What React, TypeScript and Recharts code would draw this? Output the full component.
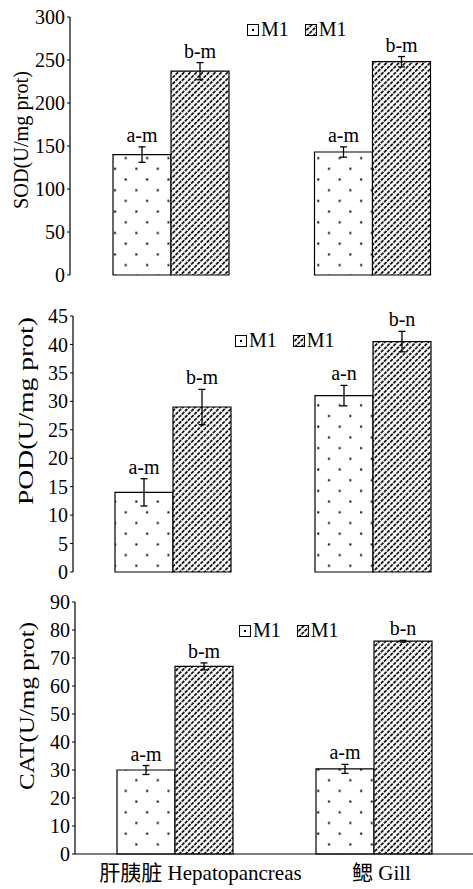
import { Bar, BarChart, ErrorBar, LabelList, Legend, XAxis, YAxis } from "recharts"

const FONT = "'Liberation Serif', 'Noto Sans CJK SC', serif"

const tissues = ["肝胰脏 Hepatopancreas", "鳃 Gill"]
const seriesNames = ["M1", "M1"]

// SOD
const sodM1 = [140, 143]
const sodM1Err = [9, 6]
const sodM2 = [237, 248]
const sodM2Err = [10, 6]
const sodLetters1 = ["a-m", "a-m"]
const sodLetters2 = ["b-m", "b-m"]
const sodTicks = [0, 50, 100, 150, 200, 250, 300]

// POD
const podM1 = [14, 31]
const podM1Err = [2.4, 1.8]
const podM2 = [29, 40.5]
const podM2Err = [3.1, 1.8]
const podLetters1 = ["a-m", "a-n"]
const podLetters2 = ["b-m", "b-n"]
const podTicks = [0, 5, 10, 15, 20, 25, 30, 35, 40, 45]

// CAT
const catM1 = [30, 30.4]
const catM1Err = [1.6, 1.6]
const catM2 = [67, 76]
const catM2Err = [1.25, 0.3]
const catLetters1 = ["a-m", "a-m"]
const catLetters2 = ["b-m", "b-n"]
const catTicks = [0, 10, 20, 30, 40, 50, 60, 70, 80, 90]

// label nudges (the printed x labels are not centred under the bars)
const xLabelShift = [26, 8]

type Row = { tissue: string; m1: number; m1Err: number; m2: number; m2Err: number; l1: string; l2: string }

function buildRows(m1: number[], m1Err: number[], m2: number[], m2Err: number[], l1: string[], l2: string[]): Row[] {
  return tissues.map((tissue, i) => ({
    tissue,
    m1: m1[i],
    m1Err: m1Err[i],
    m2: m2[i],
    m2Err: m2Err[i],
    l1: l1[i],
    l2: l2[i],
  }))
}

const makeLetter = (rows: Row[], valueKey: "m1" | "m2", errKey: "m1Err" | "m2Err") => (props: any) => {
  const x = Number(props.x)
  const y = Number(props.y)
  const width = Number(props.width)
  const height = Number(props.height)
  const row = rows[props.index]
  if (!row) return null
  const px = height / row[valueKey]
  const top = y - row[errKey] * px
  return (
    <text x={x + width / 2} y={top - 5} textAnchor="middle" fontSize={20} fontFamily={FONT} fill="#000">
      {props.value}
    </text>
  )
}

const makeYLabel = (text: string, x: number, shift: number, length: number) => (props: any) => {
  const vb = props.viewBox || { y: 0, height: 0 }
  const cy = vb.y + vb.height / 2 - shift
  return (
    <text
      x={x}
      y={cy}
      transform={`rotate(-90, ${x}, ${cy})`}
      textAnchor="middle"
      fontSize={20}
      fontFamily={FONT}
      fill="#000"
      textLength={length}
      lengthAdjust="spacingAndGlyphs"
    >
      {text}
    </text>
  )
}

const XTick = (props: any) => {
  const { x, y, payload } = props
  const idx = props.index ?? payload.index ?? 0
  return (
    <text x={x + (xLabelShift[idx] || 0)} y={y + 26} textAnchor="middle" fontSize={21} fontFamily={FONT} fill="#000">
      {payload.value}
    </text>
  )
}

function LegendBox({ id, kind }: { id: string; kind: number }) {
  return (
    <svg width={12} height={12} style={{ display: "block" }}>
      <rect x={0.5} y={0.5} width={11} height={11} fill={kind === 0 ? "#fff" : `url(#${id}-hatch)`} stroke="#000" />
      {kind === 0 && <rect x={5} y={5} width={2} height={2} fill="#000" />}
    </svg>
  )
}

type PanelProps = {
  id: string
  rows: Row[]
  ticks: number[]
  yLabel: string
  height: number
  top: number
  bottom: number
  axisWidth: number
  labelX: number
  labelShift: number
  labelLength: number
  legendTop: number
  legendLeft: number
  showX?: boolean
}

function Panel(p: PanelProps) {
  const max = p.ticks[p.ticks.length - 1]
  return (
    <BarChart
      width={473}
      height={p.height}
      data={p.rows}
      margin={{ top: p.top, right: 0, bottom: p.bottom, left: 0 }}
      barGap={0}
      barSize={58}
      style={{ fontFamily: FONT }}
    >
      <defs>
        <pattern id={`${p.id}-dots`} width={21.4} height={21.4} patternUnits="userSpaceOnUse">
          <rect width={21.4} height={21.4} fill="#fff" />
          <rect x={7} y={18} width={2} height={2} fill="#000" />
          <rect x={17.7} y={7.3} width={2} height={2} fill="#000" />
        </pattern>
        <pattern id={`${p.id}-hatch`} width={4.4} height={4.4} patternUnits="userSpaceOnUse" patternTransform="rotate(45)">
          <rect width={4.4} height={4.4} fill="#fff" />
          <line x1={1} y1={0} x2={1} y2={4.4} stroke="#000" strokeWidth={1.7} strokeDasharray="3.4 1" />
        </pattern>
      </defs>
      <XAxis
        dataKey="tissue"
        axisLine={{ stroke: "#000", strokeWidth: 1.2 }}
        tickLine={false}
        tickSize={0}
        tickMargin={0}
        height={p.showX ? 35 : 0}
        tick={p.showX ? <XTick /> : false}
        interval={0}
      />
      <YAxis
        width={p.axisWidth}
        domain={[0, max]}
        ticks={p.ticks}
        interval={0}
        axisLine={{ stroke: "#000", strokeWidth: 1.2 }}
        tickLine={{ stroke: "#000" }}
        tickSize={3}
        tickMargin={2}
        tick={{ fill: "#000", fontSize: 20, fontFamily: FONT }}
        label={makeYLabel(p.yLabel, p.labelX, p.labelShift, p.labelLength)}
      />
      <Legend
        layout="horizontal"
        verticalAlign="middle"
        align="center"
        wrapperStyle={{ top: p.legendTop, left: p.legendLeft, width: "auto" }}
        content={(lp: any) => (
          <div style={{ display: "flex", alignItems: "center", fontFamily: FONT, fontSize: 20, color: "#000" }}>
            {(lp.payload || []).map((entry: any, i: number) => (
              <div key={i} style={{ display: "flex", alignItems: "center", marginLeft: i === 0 ? 0 : 16 }}>
                <LegendBox id={p.id} kind={i} />
                <span style={{ marginLeft: 2 }}>{entry.value}</span>
              </div>
            ))}
          </div>
        )}
      />
      <Bar dataKey="m1" name={seriesNames[0]} fill={`url(#${p.id}-dots)`} stroke="#000" strokeWidth={1.2} isAnimationActive={false}>
        <ErrorBar dataKey="m1Err" width={3.5} stroke="#000" strokeWidth={1.3} />
        <LabelList dataKey="l1" content={makeLetter(p.rows, "m1", "m1Err")} />
      </Bar>
      <Bar dataKey="m2" name={seriesNames[1]} fill={`url(#${p.id}-hatch)`} stroke="#000" strokeWidth={1.2} isAnimationActive={false}>
        <ErrorBar dataKey="m2Err" width={3.5} stroke="#000" strokeWidth={1.3} />
        <LabelList dataKey="l2" content={makeLetter(p.rows, "m2", "m2Err")} />
      </Bar>
    </BarChart>
  )
}

export default function App() {
  const sodRows = buildRows(sodM1, sodM1Err, sodM2, sodM2Err, sodLetters1, sodLetters2)
  const podRows = buildRows(podM1, podM1Err, podM2, podM2Err, podLetters1, podLetters2)
  const catRows = buildRows(catM1, catM1Err, catM2, catM2Err, catLetters1, catLetters2)

  return (
    <div style={{ position: "absolute", top: 0, left: 0, width: 473, height: 889, background: "#fff", fontFamily: FONT }}>
      <Panel
        id="sod"
        rows={sodRows}
        ticks={sodTicks}
        yLabel="SOD(U/mg prot)"
        height={290}
        top={17}
        bottom={15}
        axisWidth={70}
        labelX={28}
        labelShift={6}
        labelLength={138}
        legendTop={18}
        legendLeft={247}
      />
      <Panel
        id="pod"
        rows={podRows}
        ticks={podTicks}
        yLabel="POD(U/mg prot)"
        height={300}
        top={26}
        bottom={18}
        axisWidth={73}
        labelX={33}
        labelShift={33}
        labelLength={188}
        legendTop={39}
        legendLeft={235}
      />
      <Panel
        id="cat"
        rows={catRows}
        ticks={catTicks}
        yLabel="CAT(U/mg prot)"
        height={299}
        top={12}
        bottom={0}
        axisWidth={75}
        labelX={34}
        labelShift={22}
        labelLength={168}
        legendTop={29}
        legendLeft={239}
        showX
      />
    </div>
  )
}
